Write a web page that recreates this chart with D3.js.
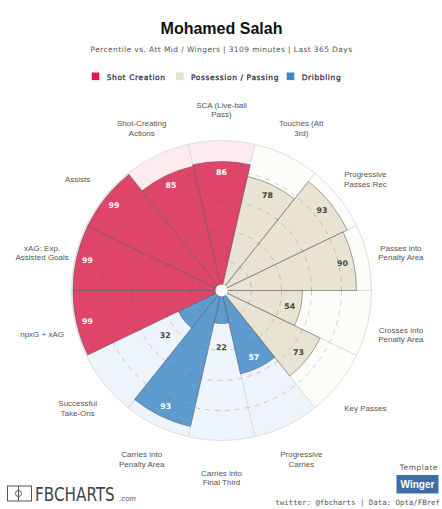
<!DOCTYPE html>
<html>
  <head>
    <meta charset="UTF-8" />
    <script src="https://d3js.org/d3.v7.min.js"></script>
    <style>
      body { margin: 0; background: #fff; }
    </style>
  </head>
  <body>
    <div id="my_dataviz"></div>

    <script>
      // clockwise from the top
      var categories = [
        "SCA (Live-ball Pass)", "Touches (Att 3rd)", "Progressive Passes Rec",
        "Passes into Penalty Area", "Crosses into Penalty Area", "Key Passes",
        "Progressive Carries", "Carries into Final Third", "Carries into Penalty Area",
        "Successful Take-Ons", "npxG + xAG", "xAG: Exp. Assisted Goals",
        "Assists", "Shot-Creating Actions"
      ];
      var percentiles = [86, 78, 93, 90, 54, 73, 57, 22, 93, 32, 99, 99, 99, 85];
      var groupOf = [
        "Shot Creation", "Possession / Passing", "Possession / Passing",
        "Possession / Passing", "Possession / Passing", "Possession / Passing",
        "Dribbling", "Dribbling", "Dribbling", "Dribbling",
        "Shot Creation", "Shot Creation", "Shot Creation", "Shot Creation"
      ];
      var groups = ["Shot Creation", "Possession / Passing", "Dribbling"];
      var gridTicks = [20, 40, 60, 80];

      var width = 442, height = 509;
      var cx = 221.5, cy = 290.5;

      var svg = d3
        .select("#my_dataviz")
        .append("svg")
        .attr("width", width)
        .attr("height", height);

      var barColor = d3.scaleOrdinal().domain(groups).range(["#df4569", "#e8e3d2", "#5e9cd0"]);
      var bandColor = d3.scaleOrdinal().domain(groups).range(["#fdebf0", "#fcfcf9", "#eef4fb"]);
      var legendColor = d3.scaleOrdinal().domain(groups).range(["#e0194b", "#e8e1cf", "#3f86c6"]);

      var step = (2 * Math.PI) / categories.length;
      var angle = d3.scaleBand().domain(categories).range([-step / 2, 2 * Math.PI - step / 2]);
      var r = d3.scaleLinear().domain([0, 100]).range([0, 150]);

      var data = categories.map((c, i) => ({ name: c, value: percentiles[i], group: groupOf[i] }));

      // title block
      svg.append("text")
        .attr("x", 221.5).attr("y", 34)
        .attr("text-anchor", "middle")
        .style("font", "bold 16px 'Liberation Sans', Arial, sans-serif")
        .attr("fill", "#111")
        .text("Mohamed Salah");

      svg.append("text")
        .attr("x", 221.5).attr("y", 52)
        .attr("text-anchor", "middle")
        .style("font", "7.5px 'DejaVu Sans', sans-serif")
        .style("letter-spacing", "0.4px")
        .attr("fill", "#555")
        .text("Percentile vs. Att Mid / Wingers | 3109 minutes | Last 365 Days");

      // legend
      var legendX = [91.7, 176, 286.7];
      var legend = svg.append("g").selectAll("g").data(groups).join("g")
        .attr("transform", (d, i) => "translate(" + legendX[i] + ",72.5)");
      legend.append("rect")
        .attr("width", 7.6).attr("height", 7.6)
        .attr("fill", d => legendColor(d));
      legend.append("text")
        .attr("x", 15).attr("y", 7.2)
        .style("font", "7.5px 'DejaVu Sans', sans-serif")
        .style("letter-spacing", "0.6px")
        .attr("fill", "#2a2540")
        .attr("stroke", "#2a2540")
        .attr("stroke-width", 0.25)
        .text(d => d);

      var chart = svg.append("g").attr("transform", "translate(" + cx + "," + cy + ")");

      var arc = d3.arc()
        .innerRadius(0)
        .startAngle(d => angle(d.name))
        .endAngle(d => angle(d.name) + angle.bandwidth());

      // background bands to 100
      chart.append("g").selectAll("path").data(data).join("path")
        .attr("d", d => arc.outerRadius(r(100))(d))
        .attr("fill", d => bandColor(d.group))
        .attr("stroke", "#dedede")
        .attr("stroke-width", 1);

      // value bars
      chart.append("g").selectAll("path").data(data).join("path")
        .attr("d", d => arc.outerRadius(r(d.value))(d))
        .attr("fill", d => barColor(d.group))
        .attr("stroke", "rgba(90,90,90,0.55)")
        .attr("stroke-width", 1);

      // dashed rings
      chart.append("g").selectAll("circle").data(gridTicks).join("circle")
        .attr("r", d => r(d))
        .attr("fill", "none")
        .attr("stroke", "rgba(90,90,90,0.28)")
        .attr("stroke-dasharray", "5,5");

      chart.append("circle")
        .attr("r", 6)
        .attr("fill", "#fff");

      // value labels
      function mid(d) { return angle(d.name) + angle.bandwidth() / 2; }
      function labelR(d) { return d.value >= 40 ? r(d.value) - 11 : r(d.value) + 24; }
      chart.append("g").selectAll("text").data(data).join("text")
        .attr("x", d => Math.sin(mid(d)) * labelR(d))
        .attr("y", d => -Math.cos(mid(d)) * labelR(d))
        .attr("dy", "0.36em")
        .attr("text-anchor", "middle")
        .style("font", "bold 7.8px 'DejaVu Sans', sans-serif")
        .attr("fill", d => (d.group == "Possession / Passing" || d.value < 40) ? "#444" : "#fff")
        .text(d => d.value);

      // category labels, wrapped
      var labels = chart.append("g").selectAll("text").data(data).join("text")
        .attr("text-anchor", "middle")
        .style("font", "8px 'Liberation Sans', Arial, sans-serif")
        .attr("fill", "#555");

      labels.each(function (d) {
        var el = d3.select(this);
        var words = d.name.split(" ");
        var lines = [], cur = [];
        words.forEach(w => {
          el.text(cur.concat(w).join(" "));
          if (cur.length && this.getComputedTextLength() > 57) {
            lines.push(cur.join(" "));
            cur = [w];
          } else cur.push(w);
        });
        lines.push(cur.join(" "));
        el.text(null);
        var a = mid(d);
        var x = Math.sin(a) * 184, y = -Math.cos(a) * 184 + 3;
        lines.forEach((l, i) => {
          el.append("tspan")
            .attr("x", x)
            .attr("y", y + (i - (lines.length - 1) / 2) * 9.6 + 3)
            .text(l);
        });
      });

      // footer
      var logo = svg.append("g").attr("stroke", "#555").attr("fill", "none");
      logo.append("rect").attr("x", 7.5).attr("y", 486).attr("width", 24).attr("height", 15);
      logo.append("line").attr("x1", 18.5).attr("x2", 18.5).attr("y1", 486).attr("y2", 501);
      logo.append("circle").attr("cx", 18.5).attr("cy", 493.5).attr("r", 3);

      svg.append("g")
        .attr("transform", "translate(35,501) scale(0.83,1)")
        .append("text")
        .attr("textLength", 96).attr("lengthAdjust", "spacingAndGlyphs")
        .style("font", "300 20px 'DejaVu Sans Condensed', 'Liberation Sans Narrow', sans-serif")
        .attr("fill", "#444")
        .text("FBCHARTS");
      svg.append("text")
        .attr("x", 119.5).attr("y", 501)
        .style("font", "italic 7.5px 'Liberation Sans', Arial, sans-serif")
        .attr("fill", "#555")
        .text(".com");

      svg.append("text")
        .attr("x", 438).attr("y", 470)
        .attr("text-anchor", "end")
        .style("font", "7.5px 'DejaVu Sans', sans-serif")
        .style("letter-spacing", "0.5px")
        .attr("fill", "#555")
        .text("Template");
      svg.append("rect")
        .attr("x", 396.5).attr("y", 475).attr("width", 42).attr("height", 18.5)
        .attr("fill", "#3c6ea6");
      svg.append("text")
        .attr("x", 417.5).attr("y", 487.5)
        .attr("text-anchor", "middle")
        .style("font", "bold 10px 'Liberation Sans', Arial, sans-serif")
        .attr("fill", "#fff")
        .text("Winger");

      svg.append("text")
        .attr("x", 440).attr("y", 505)
        .attr("text-anchor", "end")
        .style("font", "7.4px 'DejaVu Sans Mono', monospace")
        .attr("fill", "#555")
        .text("twitter: @fbcharts | Data: Opta/FBref");
    </script>
  </body>
</html>
